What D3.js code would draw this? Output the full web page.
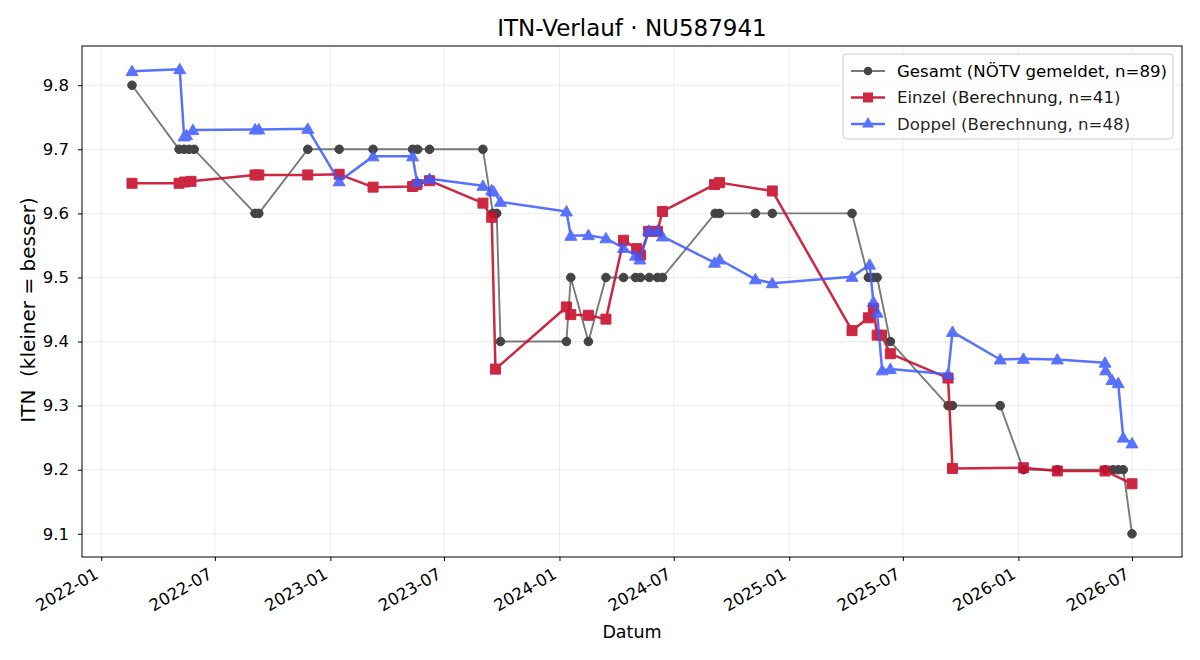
<!DOCTYPE html>
<html>
<head>
<meta charset="utf-8">
<script src="https://cdn.jsdelivr.net/npm/d3@7"></script>
<style>
  body { margin: 0; background: #fff; }
  svg, svg text { font-family: "DejaVu Sans", sans-serif; }
</style>
</head>
<body>
<div class="chart"></div>
<script>
// Gesamt (NÖTV gemeldet)
const gesamtDates = ['2022-02-19', '2022-05-05', '2022-05-13', '2022-05-21', '2022-05-29', '2022-09-03', '2022-09-09',
  '2022-11-26', '2023-01-15', '2023-03-10', '2023-05-12', '2023-05-20', '2023-06-08', '2023-09-01', '2023-09-17',
  '2023-09-23', '2023-09-29', '2024-01-12', '2024-01-19', '2024-02-16', '2024-03-15', '2024-04-12', '2024-05-01',
  '2024-05-09', '2024-05-23', '2024-06-05', '2024-06-13', '2024-09-05', '2024-09-12', '2024-11-08', '2024-12-05',
  '2025-04-11', '2025-05-07', '2025-05-15', '2025-05-21', '2025-06-11', '2025-09-11', '2025-09-18', '2025-12-03',
  '2026-01-09', '2026-03-04', '2026-05-19', '2026-06-01', '2026-06-09', '2026-06-17', '2026-07-01']
const gesamtValues = [9.8, 9.7, 9.7, 9.7, 9.7, 9.6, 9.6,
  9.7, 9.7, 9.7, 9.7, 9.7, 9.7, 9.7, 9.6,
  9.6, 9.4, 9.4, 9.5, 9.4, 9.5, 9.5, 9.5,
  9.5, 9.5, 9.5, 9.5, 9.6, 9.6, 9.6, 9.6,
  9.6, 9.5, 9.5, 9.5, 9.4, 9.3, 9.3, 9.3,
  9.2, 9.2, 9.2, 9.2, 9.2, 9.2, 9.1]

// Einzel (Berechnung)
const einzelDates = ['2022-02-19', '2022-05-05', '2022-05-14', '2022-05-24', '2022-09-03', '2022-09-09', '2022-11-26',
  '2023-01-15', '2023-03-10', '2023-05-12', '2023-05-19', '2023-06-08', '2023-09-01', '2023-09-15', '2023-09-21',
  '2024-01-12', '2024-01-19', '2024-02-16', '2024-03-15', '2024-04-12', '2024-05-03', '2024-05-09', '2024-05-22',
  '2024-06-05', '2024-06-13', '2024-09-04', '2024-09-12', '2024-12-05', '2025-04-11', '2025-05-07', '2025-05-15',
  '2025-05-21', '2025-05-28', '2025-06-11', '2025-09-11', '2025-09-18', '2026-01-09', '2026-03-04', '2026-05-19',
  '2026-07-01']
const einzelValues = [9.647, 9.647, 9.649, 9.650, 9.660, 9.660, 9.660,
  9.661, 9.641, 9.642, 9.645, 9.651, 9.616, 9.594, 9.357,
  9.454, 9.442, 9.441, 9.435, 9.558, 9.545, 9.535, 9.572,
  9.572, 9.603, 9.645, 9.648, 9.635, 9.417, 9.437, 9.452,
  9.410, 9.410, 9.381, 9.343, 9.202, 9.203, 9.198, 9.198,
  9.178]

// Doppel (Berechnung)
const doppelDates = ['2022-02-19', '2022-05-06', '2022-05-13', '2022-05-17', '2022-05-27', '2022-09-03', '2022-09-09',
  '2022-11-26', '2023-01-15', '2023-03-10', '2023-05-12', '2023-05-19', '2023-06-08', '2023-09-01', '2023-09-15',
  '2023-09-18', '2023-09-29', '2024-01-12', '2024-01-19', '2024-02-16', '2024-03-15', '2024-04-12', '2024-05-01',
  '2024-05-08', '2024-05-22', '2024-06-05', '2024-06-13', '2024-09-04', '2024-09-12', '2024-11-08', '2024-12-05',
  '2025-04-11', '2025-05-09', '2025-05-15', '2025-05-21', '2025-05-29', '2025-06-11', '2025-09-11', '2025-09-18',
  '2025-12-03', '2026-01-09', '2026-03-04', '2026-05-19', '2026-05-20', '2026-05-30', '2026-06-09', '2026-06-17',
  '2026-07-01']
const doppelValues = [9.822, 9.825, 9.720, 9.722, 9.730, 9.731, 9.731,
  9.732, 9.650, 9.689, 9.689, 9.649, 9.654, 9.643, 9.636,
  9.634, 9.618, 9.603, 9.565, 9.566, 9.561, 9.546, 9.534,
  9.528, 9.573, 9.573, 9.564, 9.523, 9.528, 9.497, 9.491,
  9.501, 9.520, 9.462, 9.445, 9.355, 9.357, 9.349, 9.415,
  9.372, 9.373, 9.372, 9.367, 9.355, 9.340, 9.335, 9.250,
  9.241]

const xTickDates = ['2022-01-01', '2022-07-01', '2023-01-01', '2023-07-01', '2024-01-01',
  '2024-07-01', '2025-01-01', '2025-07-01', '2026-01-01', '2026-07-01']
const yTicks = [9.1, 9.2, 9.3, 9.4, 9.5, 9.6, 9.7, 9.8]

const margin = { top: 46, right: 18, bottom: 103, left: 82 }
const width = 1200 - margin.left - margin.right
const height = 660 - margin.top - margin.bottom

const parse = d3.timeParse('%Y-%m-%d')
const zip = (dates, values) => dates.map((d, i) => ({ date: parse(d), value: values[i] }))

const series = [
  { name: 'Gesamt (NÖTV gemeldet, n=89)', data: zip(gesamtDates, gesamtValues), line: '#7a7a7a', fill: '#444', width: 1.9, marker: 'circle', opacity: 1 },
  { name: 'Einzel (Berechnung, n=41)', data: zip(einzelDates, einzelValues), line: '#c8102e', fill: '#c8102e', width: 2.5, marker: 'square', opacity: 0.9 },
  { name: 'Doppel (Berechnung, n=48)', data: zip(doppelDates, doppelValues), line: '#3d5afe', fill: '#3d5afe', width: 2.5, marker: 'triangle', opacity: 0.85 }
]

const all = series.flatMap(s => s.data)
const xExt = d3.extent(all, d => d.date)
const xPad = (xExt[1] - xExt[0]) * 0.05
const yExt = d3.extent(all, d => d.value)
const yPad = (yExt[1] - yExt[0]) * 0.05

const x = d3.scaleTime().domain([new Date(+xExt[0] - xPad), new Date(+xExt[1] + xPad)]).range([0, width])
const y = d3.scaleLinear().domain([yExt[0] - yPad, yExt[1] + yPad]).range([height, 0])

const svg = d3
  .select('.chart')
  .append('svg')
  .attr('width', 1200)
  .attr('height', 660)

const g = svg.append('g').attr('transform', `translate(${margin.left}, ${margin.top})`)

// grid
const xTicks = xTickDates.map(parse)
g.append('g')
  .selectAll('line')
  .data(xTicks)
  .join('line')
  .attr('x1', d => x(d)).attr('x2', d => x(d))
  .attr('y1', 0).attr('y2', height)
  .attr('stroke', '#b0b0b0').attr('stroke-opacity', 0.3).attr('stroke-width', 0.8)
g.append('g')
  .selectAll('line')
  .data(yTicks)
  .join('line')
  .attr('x1', 0).attr('x2', width)
  .attr('y1', d => y(d)).attr('y2', d => y(d))
  .attr('stroke', '#b0b0b0').attr('stroke-opacity', 0.3).attr('stroke-width', 0.8)

// axes
const xAxis = d3.axisBottom(x).tickValues(xTicks).tickFormat(d3.timeFormat('%Y-%m')).tickSize(4).tickSizeOuter(0)
const gx = g.append('g').attr('transform', `translate(0, ${height})`).call(xAxis)
gx.attr('font-family', null).attr('font-size', null)
gx.select('.domain').remove()
gx.selectAll('text')
  .attr('font-size', 16.5)
  .attr('fill', '#000')
  .attr('text-anchor', 'end')
  .attr('dy', '0.72em')
  .attr('y', 0)
  .attr('transform', 'translate(-8, 10) rotate(-30)')
gx.selectAll('line').attr('stroke', '#000')

const yAxis = d3.axisLeft(y).tickValues(yTicks).tickFormat(d3.format('.1f')).tickSize(4).tickSizeOuter(0)
const gy = g.append('g').call(yAxis)
gy.attr('font-family', null).attr('font-size', null)
gy.select('.domain').remove()
gy.selectAll('text').attr('font-size', 16.5).attr('fill', '#000').attr('x', -13)
gy.selectAll('line').attr('stroke', '#000')

// lines and markers
const line = d3.line().x(d => x(d.date)).y(d => y(d.value))
const sym = { circle: d3.symbolCircle, square: d3.symbolSquare, triangle: d3.symbolTriangle }
const symSize = { circle: 58, square: 100, triangle: 62 }

series.forEach(s => {
  const sg = g.append('g').attr('opacity', s.opacity)
  sg.append('path')
    .datum(s.data)
    .attr('d', line)
    .attr('fill', 'none')
    .attr('stroke', s.line)
    .attr('stroke-width', s.width)
    .attr('stroke-linejoin', 'round')
  sg.selectAll('path.m')
    .data(s.data)
    .join('path')
    .attr('class', 'm')
    .attr('d', d3.symbol(sym[s.marker], symSize[s.marker]))
    .attr('transform', d => `translate(${x(d.date)}, ${y(d.value) + (s.marker === 'triangle' ? 1 : 0)})`)
    .attr('fill', s.fill)
    .attr('stroke', s.fill)
    .attr('stroke-width', 1)
})

// frame
g.append('rect')
  .attr('width', width).attr('height', height)
  .attr('fill', 'none').attr('stroke', '#000').attr('stroke-width', 1)

// labels
svg.append('text')
  .attr('x', margin.left + width / 2).attr('y', 36)
  .attr('text-anchor', 'middle').attr('font-size', 23)
  .text('ITN-Verlauf · NU587941')
svg.append('text')
  .attr('x', margin.left + width / 2).attr('y', 638)
  .attr('text-anchor', 'middle').attr('font-size', 17.5)
  .text('Datum')
svg.append('text')
  .attr('transform', 'translate(35, 310) rotate(-90)')
  .attr('text-anchor', 'middle').attr('font-size', 20)
  .style('white-space', 'pre')
  .text('ITN  (kleiner = besser)')

// legend
const lg = svg.append('g').attr('transform', 'translate(843, 54)')
lg.append('rect')
  .attr('width', 330).attr('height', 85).attr('rx', 3)
  .attr('fill', '#fff').attr('fill-opacity', 0.8)
  .attr('stroke', '#ccc')
series.forEach((s, i) => {
  const row = lg.append('g').attr('transform', `translate(0, ${17 + i * 26.5})`).attr('opacity', s.opacity)
  row.append('line')
    .attr('x1', 8).attr('x2', 42)
    .attr('stroke', s.line).attr('stroke-width', s.width)
  row.append('path')
    .attr('d', d3.symbol(sym[s.marker], symSize[s.marker])())
    .attr('transform', 'translate(25, 0)')
    .attr('fill', s.fill)
  row.append('text')
    .attr('x', 54).attr('dy', '0.35em')
    .attr('font-size', 16.6)
    .text(s.name)
})
</script>
</body>
</html>
